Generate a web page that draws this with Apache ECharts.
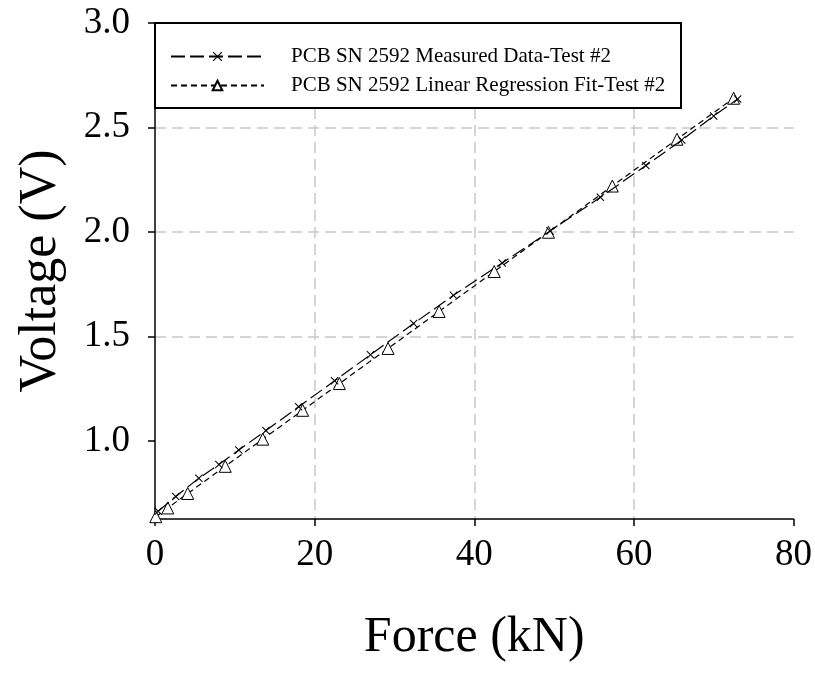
<!DOCTYPE html>
<html>
<head>
<meta charset="utf-8">
<script src="https://cdn.jsdelivr.net/npm/echarts@6/dist/echarts.min.js"></script>
<style>
html,body{margin:0;padding:0;background:#fff;}
#chart{width:815px;height:677px;}
</style>
</head>
<body>
<div id="chart"></div>
<script>
// ---- Data ----
const seriesNames = ['PCB SN 2592 Measured Data-Test #2', 'PCB SN 2592 Linear Regression Fit-Test #2'];

const forceMeasured = [0.4, 2.6, 5.5, 8.0, 10.5, 13.9, 18.0, 22.5, 27.0, 32.4, 37.4, 43.5, 49.5, 55.8, 61.5, 66.0, 70.0, 73.0];
const voltageMeasured = [0.664, 0.735, 0.822, 0.888, 0.957, 1.050, 1.164, 1.288, 1.413, 1.562, 1.697, 1.852, 2.005, 2.166, 2.318, 2.440, 2.555, 2.636];

const forceFit = [0.1, 1.6, 4.1, 8.8, 13.5, 18.5, 23.1, 29.2, 35.6, 42.5, 49.3, 57.3, 65.4, 72.5];
const voltageFit = [0.638, 0.680, 0.749, 0.879, 1.009, 1.147, 1.275, 1.443, 1.620, 1.811, 1.999, 2.220, 2.444, 2.640];

const xTicks = [0, 20, 40, 60, 80];
const yTicks = [1.0, 1.5, 2.0, 2.5, 3.0];

const xTitle = 'Force (kN)';
const yTitle = 'Voltage (V)';

// ---- Chart ----
const FONT = '"Liberation Serif", "Times New Roman", serif';
const crossPath = 'path://M0,0.9L0.9,0L5,4.1L9.1,0L10,0.9L5.9,5L10,9.1L9.1,10L5,5.9L0.9,10L0,9.1L4.1,5Z';

const measuredData = forceMeasured.map((f, i) => [f, voltageMeasured[i]]);
const fitData = forceFit.map((f, i) => [f, voltageFit[i]]);

const chart = echarts.init(document.getElementById('chart'), null, {renderer: 'canvas'});
const axisLineStyle = {color: '#000', width: 1.5};
const gridLineStyle = {color: '#c8c8c8', type: [11, 6], width: 1.5};

chart.setOption({
  animation: false,
  backgroundColor: '#ffffff',
  grid: {left: 155, right: 20, top: 23, bottom: 158, containLabel: false},
  xAxis: {
    type: 'value',
    min: xTicks[0],
    max: xTicks[xTicks.length - 1],
    interval: 20,
    axisLine: {show: true, onZero: false, lineStyle: axisLineStyle},
    axisTick: {show: true, inside: false, length: 7, lineStyle: axisLineStyle},
    axisLabel: {fontFamily: FONT, fontSize: 37, color: '#000', margin: 18},
    splitLine: {show: true, showMinLine: false, showMaxLine: false, lineStyle: gridLineStyle},
    name: xTitle,
    nameLocation: 'middle',
    nameGap: 94,
    nameTextStyle: {fontFamily: FONT, fontSize: 50, color: '#000'}
  },
  yAxis: {
    type: 'value',
    min: 0.627,
    max: 3.0,
    axisLine: {show: true, onZero: false, lineStyle: axisLineStyle},
    axisTick: {show: true, inside: false, length: 7, lineStyle: axisLineStyle, customValues: yTicks},
    axisLabel: {fontFamily: FONT, fontSize: 37, color: '#000', margin: 25, customValues: yTicks,
      formatter: v => v.toFixed(1)},
    splitLine: {show: true, showMinLine: false, showMaxLine: false, lineStyle: gridLineStyle},
    name: yTitle,
    nameLocation: 'middle',
    nameGap: 88,
    nameTextStyle: {fontFamily: FONT, fontSize: 52, color: '#000'}
  },
  legend: {
    show: true,
    orient: 'vertical',
    left: 165,
    top: 41,
    itemWidth: 93,
    itemHeight: 12,
    itemGap: 8,
    z: 20,
    textStyle: {fontFamily: FONT, fontSize: 21, color: '#000', padding: [0, 0, 0, 22]},
    data: seriesNames
  },
  graphic: [{
    type: 'rect',
    z: 10,
    shape: {x: 155, y: 23, width: 526, height: 85},
    style: {fill: '#ffffff', stroke: '#000', lineWidth: 2}
  }],
  series: [
    {
      name: seriesNames[1],
      type: 'line',
      data: fitData,
      symbol: 'triangle',
      symbolSize: 12,
      showAllSymbol: true,
      lineStyle: {color: '#000', width: 1.2, type: [6, 4]},
      itemStyle: {color: '#fff', borderColor: '#000', borderWidth: 1},
      z: 3
    },
    {
      name: seriesNames[0],
      type: 'line',
      data: measuredData,
      symbol: crossPath,
      symbolSize: 8,
      showAllSymbol: true,
      lineStyle: {color: '#000', width: 1.2, type: [14, 5]},
      itemStyle: {color: '#000'},
      z: 4
    }
  ]
});
</script>
</body>
</html>
